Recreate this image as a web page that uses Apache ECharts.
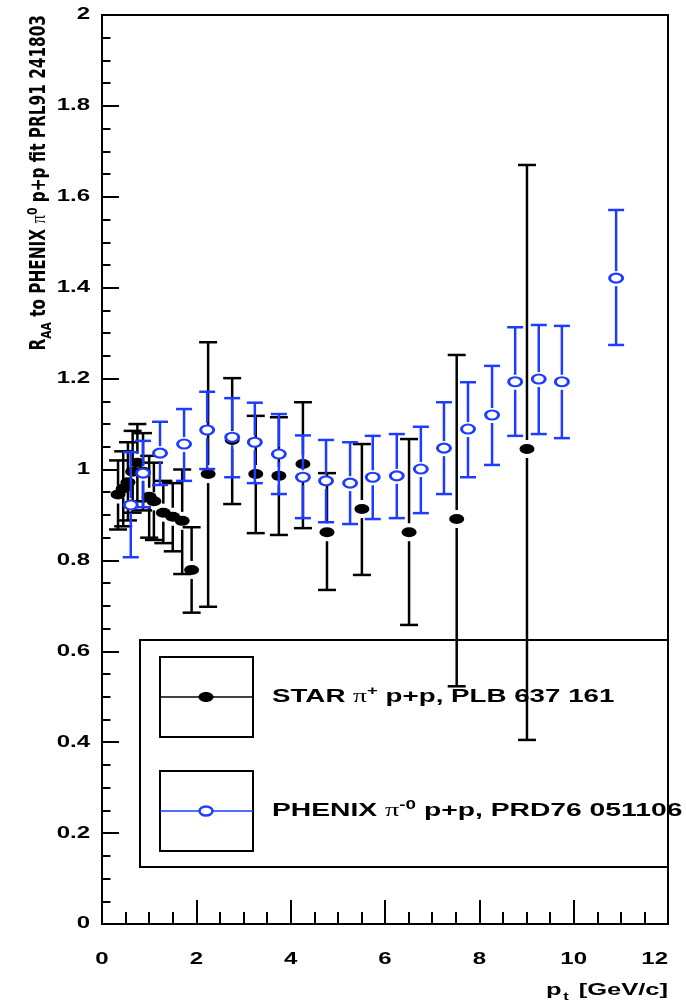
<!DOCTYPE html>
<html><head><meta charset="utf-8">
<script src="https://cdn.jsdelivr.net/npm/echarts@6/dist/echarts.min.js"></script>
<style>html,body{margin:0;padding:0;background:#fff}#c{width:686px;height:1005px}</style>
</head><body><div id="c"></div>
<script>
// STAR pi+ p+p (black filled)
const starX  = [0.34,0.45,0.55,0.65,0.75,0.87,1.0,1.1,1.3,1.5,1.7,1.9,2.25,2.76,3.26,3.75,4.26,4.77,5.51,6.51,7.52,9.01];
const starY  = [0.945,0.958,0.972,0.995,1.015,0.995,0.94,0.93,0.905,0.896,0.887,0.779,0.99,1.065,0.99,0.986,1.012,0.862,0.913,0.862,0.891,1.045];
const starLo = [0.868,0.875,0.888,0.905,0.93,0.91,0.85,0.845,0.838,0.82,0.77,0.685,0.698,0.924,0.86,0.856,0.871,0.735,0.768,0.658,0.523,0.405];
const starHi = [1.02,1.04,1.06,1.085,1.1,1.08,1.03,1.015,0.975,0.97,1.0,0.873,1.28,1.201,1.118,1.115,1.148,0.992,1.056,1.067,1.252,1.67];
// PHENIX pi0 p+p (blue open)
const phxX  = [0.61,0.87,1.23,1.74,2.23,2.76,3.24,3.75,4.26,4.75,5.26,5.74,6.25,6.76,7.25,7.76,8.27,8.76,9.26,9.75,10.9];
const phxY  = [0.922,0.992,1.036,1.056,1.087,1.071,1.06,1.034,0.983,0.975,0.970,0.983,0.986,1.001,1.047,1.089,1.12,1.193,1.199,1.193,1.421];
const phxLo = [0.807,0.917,0.966,0.975,1.001,0.983,0.97,0.946,0.893,0.884,0.88,0.891,0.893,0.904,0.946,0.983,1.01,1.074,1.078,1.069,1.274];
const phxHi = [1.038,1.063,1.105,1.133,1.171,1.157,1.147,1.122,1.075,1.065,1.06,1.074,1.078,1.094,1.148,1.192,1.228,1.313,1.318,1.316,1.571];
const xTicks = [0,2,4,6,8,10,12];
const yTicks = [0,0.2,0.4,0.6,0.8,1,1.2,1.4,1.6,1.8,2];
const legendLabels = ['STAR', 'PHENIX'];

const BLUE = '#1e3cff';
const FONT = 'Liberation Sans, Arial, sans-serif';
const NARROW = 'Liberation Sans Narrow, DejaVu Sans Condensed, sans-serif';

function rows(xs, ys, lo, hi){ return xs.map((x,i)=>[x, ys[i], lo[i], hi[i]]); }

function errRender(color, gapUp, gapDn, capHalf){
  return function(params, api){
    const x=api.value(0), y=api.value(1), lo=api.value(2), hi=api.value(3);
    const p=api.coord([x,y]), ph=api.coord([x,hi]), pl=api.coord([x,lo]);
    const st={stroke:color, lineWidth:2.5};
    const ch=[];
    if (p[1]-gapUp > ph[1]) ch.push({type:'line', shape:{x1:p[0],y1:p[1]-gapUp,x2:p[0],y2:ph[1]}, style:st});
    ch.push({type:'line', shape:{x1:p[0]-capHalf,y1:ph[1],x2:p[0]+capHalf,y2:ph[1]}, style:st});
    if (p[1]+gapDn < pl[1]) ch.push({type:'line', shape:{x1:p[0],y1:p[1]+gapDn,x2:p[0],y2:pl[1]}, style:st});
    ch.push({type:'line', shape:{x1:p[0]-capHalf,y1:pl[1],x2:p[0]+capHalf,y2:pl[1]}, style:st});
    return {type:'group', children:ch};
  };
}

const chart = echarts.init(document.getElementById('c'), null, {renderer:'canvas'});
chart.setOption({
  backgroundColor:'#fff',
  animation:false,
  grid:{left:102, right:18, top:15, bottom:81, show:true, borderColor:'#000', borderWidth:2, backgroundColor:'transparent'},
  xAxis:{type:'value', min:xTicks[0], max:xTicks[xTicks.length-1], interval:2,
    axisLine:{onZero:false, lineStyle:{color:'#000', width:2}},
    axisTick:{inside:true, length:24, lineStyle:{color:'#000', width:2}},
    minorTick:{show:true, splitNumber:4, length:12, lineStyle:{color:'#000', width:2}},
    splitLine:{show:false}, axisLabel:{show:false}
  },
  yAxis:{type:'value', min:yTicks[0], max:yTicks[yTicks.length-1], interval:0.2,
    axisLine:{onZero:false, lineStyle:{color:'#000', width:2}},
    axisTick:{inside:true, length:17, lineStyle:{color:'#000', width:2}},
    minorTick:{show:true, splitNumber:4, length:8.5, lineStyle:{color:'#000', width:2}},
    splitLine:{show:false}, axisLabel:{show:false}
  },
  series:[
    {type:'custom', name:'starErr', z:2, data:rows(starX,starY,starLo,starHi), renderItem:errRender('#000',9,9,9), encode:{x:0,y:1}},
    {type:'scatter', name:'star', z:3, data:starX.map((x,i)=>[x,starY[i]]), symbol:'circle', symbolSize:[15,10], itemStyle:{color:'#000', opacity:1}},
    {type:'custom', name:'phxErr', z:4, data:rows(phxX,phxY,phxLo,phxHi), renderItem:errRender(BLUE,7,8,8), encode:{x:0,y:1}},
    {type:'scatter', name:'phx', z:5, data:phxX.map((x,i)=>[x,phxY[i]]), symbol:'circle', symbolSize:[13,9], itemStyle:{color:'#fff', borderColor:BLUE, borderWidth:2.5, opacity:1}}
  ]
});

// tick labels placed through the axis scales (text widened like the reference)
const tickStyle = {fontSize:16, fontWeight:'bold', fontFamily:FONT, fill:'#000'};
const labelGraphics = [];
xTicks.forEach((v,i)=>{
  const px = chart.convertToPixel({xAxisIndex:0}, v);
  const last = i === xTicks.length-1;
  labelGraphics.push({type:'text', x:px, y:960, scaleX:1.5, z:10,
    style:Object.assign({text:String(v), align:last?'right':'center', verticalAlign:'middle'}, tickStyle)});
});
yTicks.forEach(v=>{
  const py = chart.convertToPixel({yAxisIndex:0}, v);
  labelGraphics.push({type:'text', x:90, y:py, scaleX:1.5, z:10,
    style:Object.assign({text:String(v), align:'right', verticalAlign:'middle'}, tickStyle)});
});

chart.setOption({
  graphic: labelGraphics.concat([
    // y axis title
    {type:'text', x:40, y:15, rotation:Math.PI/2, scaleY:1.2, z:10,
      style:{text:'{b|R}{s|AA}{b| to PHENIX }{g|π}{p|0}{b| p+p fit PRL91 241803}', align:'right', verticalAlign:'middle',
        rich:{
          b:{fontSize:17, fontWeight:'bold', fontFamily:NARROW, fill:'#000'},
          s:{fontSize:12, fontWeight:'bold', fontFamily:NARROW, padding:[12,0,0,0]},
          g:{fontSize:17, fontFamily:'Liberation Serif, serif'},
          p:{fontSize:12, fontWeight:'bold', fontFamily:NARROW, padding:[0,0,12,0]}
        }}},
    // x axis title
    {type:'text', x:668, y:990, scaleX:1.5, z:10,
      style:{text:'{b|p}{s|t}{b| [GeV/c]}', align:'right', verticalAlign:'middle',
        rich:{
          b:{fontSize:17, fontWeight:'bold', fontFamily:FONT},
          s:{fontSize:11, fontWeight:'bold', fontFamily:FONT, padding:[13,2,0,1]}
        }}},
    // legend (transparent, beneath data)
    {type:'rect', z:1, shape:{x:140, y:640, width:528, height:227}, style:{fill:'none', stroke:'#000', lineWidth:2}},
    {type:'rect', z:1, shape:{x:160, y:657, width:93, height:80}, style:{fill:'none', stroke:'#000', lineWidth:2}},
    {type:'line', z:1, shape:{x1:160, y1:697, x2:253, y2:697}, style:{stroke:'#000', lineWidth:1.5}},
    {type:'ellipse', z:1, shape:{cx:206, cy:697, rx:7.5, ry:5}, style:{fill:'#000'}},
    {type:'text', z:1, x:272, y:697, scaleX:1.54,
      style:{text:'{b|'+legendLabels[0]+' }{g|π}{p|+}{b| p+p, PLB 637 161}', verticalAlign:'middle',
        rich:{b:{fontSize:18, fontWeight:'bold', fontFamily:FONT}, g:{fontSize:18, fontFamily:'Liberation Serif, serif'},
              p:{fontSize:12, fontWeight:'bold', fontFamily:FONT, padding:[0,0,10,0]}}}},
    {type:'rect', z:1, shape:{x:160, y:771, width:93, height:80}, style:{fill:'none', stroke:'#000', lineWidth:2}},
    {type:'line', z:1, shape:{x1:160, y1:811, x2:253, y2:811}, style:{stroke:BLUE, lineWidth:1.5}},
    {type:'ellipse', z:1, shape:{cx:206, cy:811, rx:6.5, ry:4.5}, style:{fill:'#fff', stroke:BLUE, lineWidth:2.5}},
    {type:'text', z:1, x:272, y:811, scaleX:1.57,
      style:{text:'{b|'+legendLabels[1]+' }{g|π}{p|-0}{b| p+p, PRD76 051106}', verticalAlign:'middle',
        rich:{b:{fontSize:18, fontWeight:'bold', fontFamily:FONT}, g:{fontSize:18, fontFamily:'Liberation Serif, serif'},
              p:{fontSize:12, fontWeight:'bold', fontFamily:FONT, padding:[0,0,10,0]}}}}
  ])
});
</script>
</body></html>
